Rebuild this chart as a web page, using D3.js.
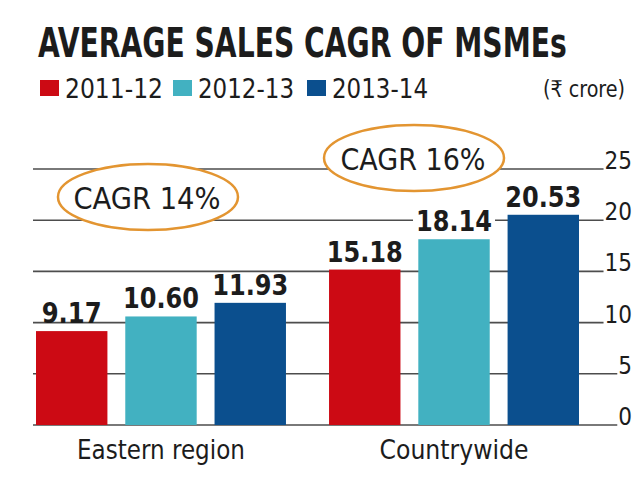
<!DOCTYPE html>
<html><head><meta charset="utf-8">
<script src="https://cdn.jsdelivr.net/npm/d3@7"></script>
<style>
html,body{margin:0;padding:0;background:#fff;}
svg{display:block;}
text{font-family:"DejaVu Sans Condensed","DejaVu Sans","Noto Sans",sans-serif;font-stretch:condensed;fill:#1c1c1c;}
</style></head>
<body>
<svg id="chart" width="640" height="480"></svg>
<script>
// ---- data ----
const categories = ["Eastern region", "Countrywide"];
const seriesNames = ["2011-12", "2012-13", "2013-14"];
const values2011_12 = [9.17, 15.18];
const values2012_13 = [10.60, 18.14];
const values2013_14 = [11.93, 20.53];
const yTickValues = [0, 5, 10, 15, 20, 25];
const cagrLabels = ["CAGR 14%", "CAGR 16%"];
const unitLabel = "(₹ crore)";
const titleText = "AVERAGE SALES CAGR OF MSMEs";

// ---- styles / layout ----
const colors = ["#cc0a14", "#42b1c1", "#0b4f8e"];
const gridColor = "#4d4d4d";
const ellipseColor = "#e39531";

const svg = d3.select("#chart");
svg.append("rect").attr("width",640).attr("height",480).attr("fill","#fff");

const seriesValues = [values2011_12, values2012_13, values2013_14];
const rows = [];
categories.forEach((c, ci) => seriesNames.forEach((s, si) => rows.push({cat: c, ser: s, si, value: seriesValues[si][ci]})));

const y = d3.scaleLinear().domain([0, 25]).range([425, 169]);
const x0 = d3.scaleBand().domain(categories).range([36, 579]).paddingInner(0.147).paddingOuter(0);
const x1 = d3.scaleBand().domain(seriesNames).range([0, x0.bandwidth()]).paddingInner(0.2).paddingOuter(0);

function fit(sel, w) { sel.attr("textLength", w).attr("lengthAdjust", "spacingAndGlyphs"); return sel; }

// title: fit width by font size, restore height by vertical scale
const titleG = svg.append("g");
const titleT = titleG.append("text").attr("x", 0).attr("y", 0).attr("font-size", 41).attr("font-weight", "bold")
  .attr("fill", "#111").text(titleText);
const tw = titleT.node().getComputedTextLength();
const tfs = 41 * 529 / tw;
titleT.attr("font-size", tfs);
titleG.attr("transform", `translate(38,57) scale(1,${41 / tfs})`);

// legend
const legendX = [40, 173, 307];
const legendW = [98, 96, 96];
seriesNames.forEach((s, i) => {
  svg.append("rect").attr("x", legendX[i]).attr("y", 80).attr("width", 19).attr("height", 16).attr("fill", colors[i]);
  fit(svg.append("text").attr("x", legendX[i] + 25).attr("y", 98).attr("font-size", 26).text(s), legendW[i]);
});
fit(svg.append("text").attr("x", 543).attr("y", 97).attr("font-size", 23).text(unitLabel), 82);

// y axis gridlines with labels at right end
const axisRight = 632;
const gridG = svg.append("g");
yTickValues.forEach(v => {
  const t = svg.append("text").attr("x", axisRight).attr("y", y(v)).attr("text-anchor", "end")
    .attr("font-size", 24).attr("fill", "#222").text(v);
  const w = t.node().getComputedTextLength();
  gridG.append("line").attr("x1", 33).attr("x2", axisRight - w - 1)
    .attr("y1", y(v)).attr("y2", y(v)).attr("stroke", gridColor).attr("stroke-width", 1.6);
});

// bars
svg.append("g").selectAll("rect").data(rows).join("rect")
  .attr("x", d => x0(d.cat) + x1(d.ser))
  .attr("y", d => y(d.value))
  .attr("width", x1.bandwidth())
  .attr("height", d => y(0) - y(d.value))
  .attr("fill", d => colors[d.si]);

// value labels with white knockout
const fmt = d3.format(".2f");
const labG = svg.append("g");
rows.forEach(d => {
  const cx = x0(d.cat) + x1(d.ser) + x1.bandwidth() / 2;
  const by = y(d.value) - 8;
  const bg = labG.append("rect").attr("fill", "#fff");
  const t = labG.append("text").attr("x", cx).attr("y", by).attr("text-anchor", "middle")
    .attr("font-size", 29).attr("font-weight", "bold").attr("fill", "#111").text(fmt(d.value));
  const w = fmt(d.value).length === 4 ? 60 : 76;
  fit(t, w);
  bg.attr("x", cx - w / 2 - 3).attr("y", by - 21).attr("width", w + 6).attr("height", 18);
});

// category labels
const catW = [168, 149];
categories.forEach((c, i) => {
  fit(svg.append("text").attr("x", x0(c) + x0.bandwidth() / 2).attr("y", 459).attr("text-anchor", "middle")
    .attr("font-size", 27).attr("fill", "#222").text(c), catW[i]);
});

// CAGR annotations
const cagrDx = [-13, -40];
const cagrCy = [197, 158];
const cagrW = [147, 145];
categories.forEach((c, i) => {
  const cx = x0(c) + x0.bandwidth() / 2 + cagrDx[i];
  svg.append("ellipse").attr("cx", cx).attr("cy", cagrCy[i]).attr("rx", 90).attr("ry", 33)
    .attr("fill", "#fff").attr("stroke", ellipseColor).attr("stroke-width", 2.5);
  fit(svg.append("text").attr("x", cx - 1).attr("y", cagrCy[i] + 12).attr("text-anchor", "middle")
    .attr("font-size", 31).attr("fill", "#1a1a1a").text(cagrLabels[i]), cagrW[i]);
});
</script>
</body></html>
